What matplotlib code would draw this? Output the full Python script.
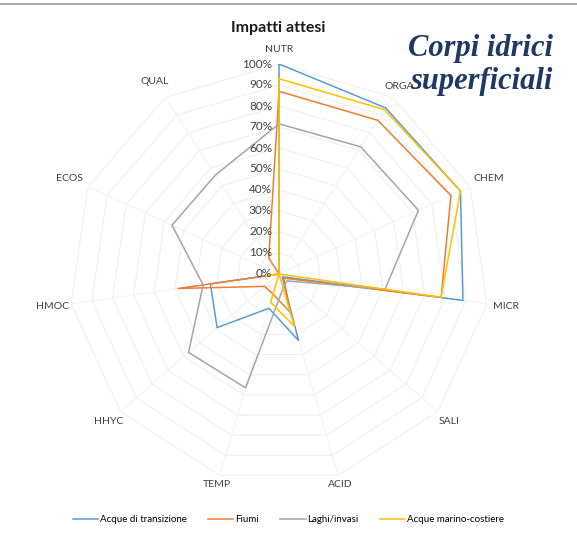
import numpy as np
import matplotlib.pyplot as plt
from matplotlib.lines import Line2D

categories = ["NUTR", "ORGA", "CHEM", "MICR", "SALI", "ACID",
              "TEMP", "HHYC", "HMOC", "ECOS", "QUAL"]

transizione = [100, 94, 95, 88.5, 2, 33, 17, 39, 33, 0, 0]
fiumi = [87, 87, 90, 78, 3, 19, 10, 9, 48.5, 0, 9]
laghi = [71.5, 72, 73, 51, 5, 7, 56.5, 57, 36.5, 56, 56]
marino = [93, 93, 95, 78, 0, 26, 14, 0, 7, 0, 0]

series = [("Acque di transizione", transizione, "#5B9BD5"),
          ("Fiumi", fiumi, "#ED7D31"),
          ("Laghi/invasi", laghi, "#A5A5A5"),
          ("Acque marino-costiere", marino, "#FFC000")]

levels = [0, 10, 20, 30, 40, 50, 60, 70, 80, 90, 100]

plt.rcParams['font.family'] = ['Lato', 'DejaVu Sans']

fig = plt.figure(figsize=(5.77, 5.36), dpi=100)
ax = fig.add_axes([69 / 577, 52 / 536, 420 / 577, 420 / 536], projection='polar')
ax.set_theta_offset(np.pi / 2)
ax.set_theta_direction(-1)

n = len(categories)
angles = np.linspace(0, 2 * np.pi, n, endpoint=False)
closed = np.concatenate([angles, angles[:1]])

# griglia poligonale, molto chiara
for lv in levels[1:]:
    ax.plot(closed, [lv] * (n + 1), color="#F0F0F0", lw=0.8, zorder=1)
for a in angles:
    ax.plot([a, a], [0, 100], color="#F3F3F3", lw=0.8, zorder=1)

for name, vals, col in series:
    ax.plot(closed, vals + vals[:1], color=col, lw=1.1, label=name, zorder=3)

ax.set_ylim(0, 100)
ax.set_xticks([])
ax.set_yticks([])
ax.grid(False)
ax.spines['polar'].set_visible(False)
ax.set_facecolor("none")

for lv in levels:
    ax.annotate(f"{lv}%", xy=(0, lv), xytext=(-5, 0), textcoords='offset points',
                ha='right', va='center', fontsize=8.5, color="#404040")

for a, c in zip(angles, categories):
    r = 105 + 4.5 * abs(np.sin(a)) + 2 * np.cos(a)
    if c == "ORGA":
        r = 106
    ax.text(a, r, c, ha='center', va='center', fontsize=7.5, color="#404040")

fig.text(278 / 577, 1 - 28 / 536, "Impatti attesi", ha='center', va='center',
         fontsize=11.5, fontweight='bold', color="#1a1a1a")

fig.text(481 / 577, 1 - 65 / 536, "Corpi idrici\nsuperficiali", ha='center', va='center',
         fontsize=22, fontstyle='italic', fontweight='bold', color="#1F3864",
         family='Liberation Serif', linespacing=1.22, zorder=5)

fig.add_artist(Line2D([0, 1], [1 - 4 / 536, 1 - 4 / 536], color="#9A9A9A", lw=1.2))

fig.legend(loc='center', bbox_to_anchor=(0.5, 1 - 520 / 536), ncol=4, frameon=False,
           fontsize=7, handlelength=2.6, columnspacing=2.2, handletextpad=0.2)

fig.savefig("out.png", dpi=100)
